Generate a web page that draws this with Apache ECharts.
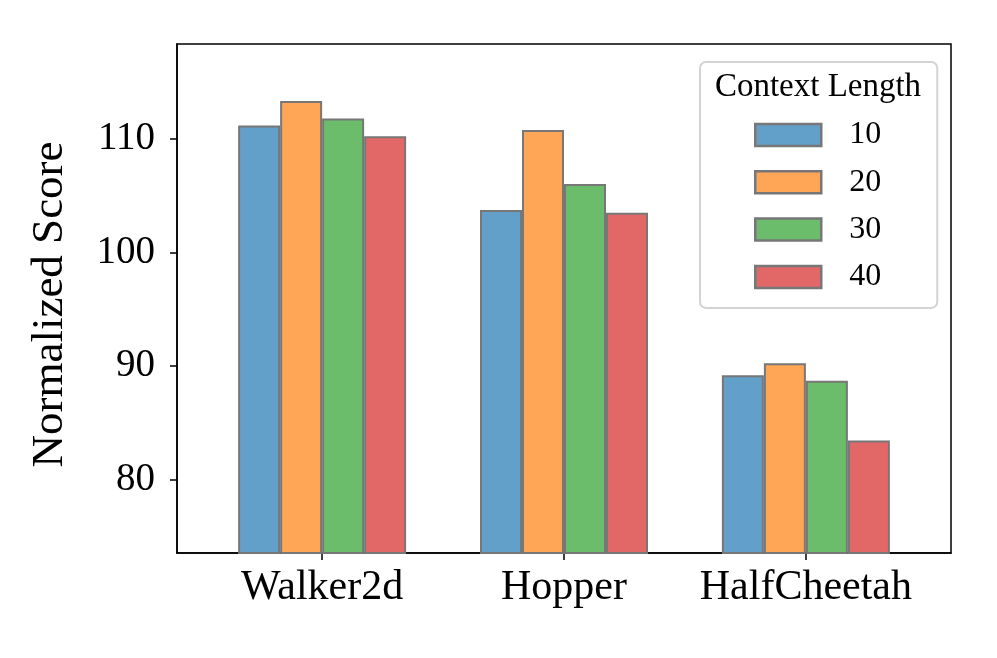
<!DOCTYPE html>
<html>
<head>
<meta charset="utf-8">
<script src="https://cdn.jsdelivr.net/npm/echarts@6/dist/echarts.min.js"></script>
<style>html,body{margin:0;padding:0;background:#fff}#c{width:997px;height:658px}</style>
</head>
<body>
<div id="c"></div>
<script>
const categories = ['Walker2d', 'Hopper', 'HalfCheetah'];
const seriesNames = ['10', '20', '30', '40'];
const ctx10 = [111.2, 103.75, 89.2];
const ctx20 = [113.35, 110.8, 90.25];
const ctx30 = [111.8, 106.05, 88.7];
const ctx40 = [110.25, 103.5, 83.45];
const yTicks = [80, 90, 100, 110];
const xTicks = [0, 1, 2];

const values = [ctx10, ctx20, ctx30, ctx40];
const colors = ['#62A0CA', '#FFA556', '#6BBC6B', '#E26868'];
const FONT = 'Liberation Serif';

const chart = echarts.init(document.getElementById('c'));
chart.setOption({
  backgroundColor: '#fff',
  animation: false,
  textStyle: { fontFamily: FONT, color: '#000' },
  title: {
    text: 'Context Length',
    left: 818, top: 71, textAlign: 'center', padding: 0, z: 20,
    textStyle: { fontFamily: FONT, fontSize: 33, fontWeight: 'normal', color: '#000' }
  },
  legend: {
    orient: 'vertical',
    left: 700, top: 62,
    padding: [57, 56, 15, 54],
    backgroundColor: 'rgba(255,255,255,0.8)',
    borderColor: '#d3d3d3', borderWidth: 2, borderRadius: 6,
    itemWidth: 66, itemHeight: 22, itemGap: 15.3,
    icon: 'rect',
    itemStyle: { borderWidth: 2.5 },
    textStyle: { fontFamily: FONT, fontSize: 32, lineHeight: 32, color: '#000', padding: [0, 0, 0, 23] },
    data: seriesNames
  },
  grid: {
    left: 177, right: 46, top: 44, bottom: 105,
    show: true, borderColor: '#000', borderWidth: 1.5, backgroundColor: 'transparent'
  },
  xAxis: {
    type: 'value', min: -0.6, max: 2.6,
    axisLine: { show: true, onZero: false, lineStyle: { color: '#000', width: 1.5 } },
    axisTick: { show: true, customValues: xTicks, length: 7, lineStyle: { color: '#000', width: 1.5 } },
    axisLabel: { customValues: xTicks, margin: 14, fontFamily: FONT, fontSize: 42, color: '#000',
      formatter: v => categories[Math.round(v)] },
    splitLine: { show: false }
  },
  yAxis: {
    type: 'value', min: 73.54, max: 118.37,
    name: 'Normalized Score', nameLocation: 'middle', nameGap: 104,
    nameTextStyle: { fontFamily: FONT, fontSize: 45, color: '#000', padding: [0, 12, 0, 0] },
    axisLine: { show: true, onZero: false, lineStyle: { color: '#000', width: 1.5 } },
    axisTick: { show: true, customValues: yTicks, length: 7, lineStyle: { color: '#000', width: 1.5 } },
    axisLabel: { customValues: yTicks, margin: 22, fontFamily: FONT, fontSize: 39, color: '#000' },
    splitLine: { show: false }
  },
  series: seriesNames.map((n, i) => ({
    name: n, type: 'bar',
    barWidth: 42, barGap: '0%',
    clip: true,
    itemStyle: { color: colors[i], borderColor: '#777777', borderWidth: 2 },
    data: xTicks.map((x, j) => [x, values[i][j]])
  }))
});
</script>
</body>
</html>
